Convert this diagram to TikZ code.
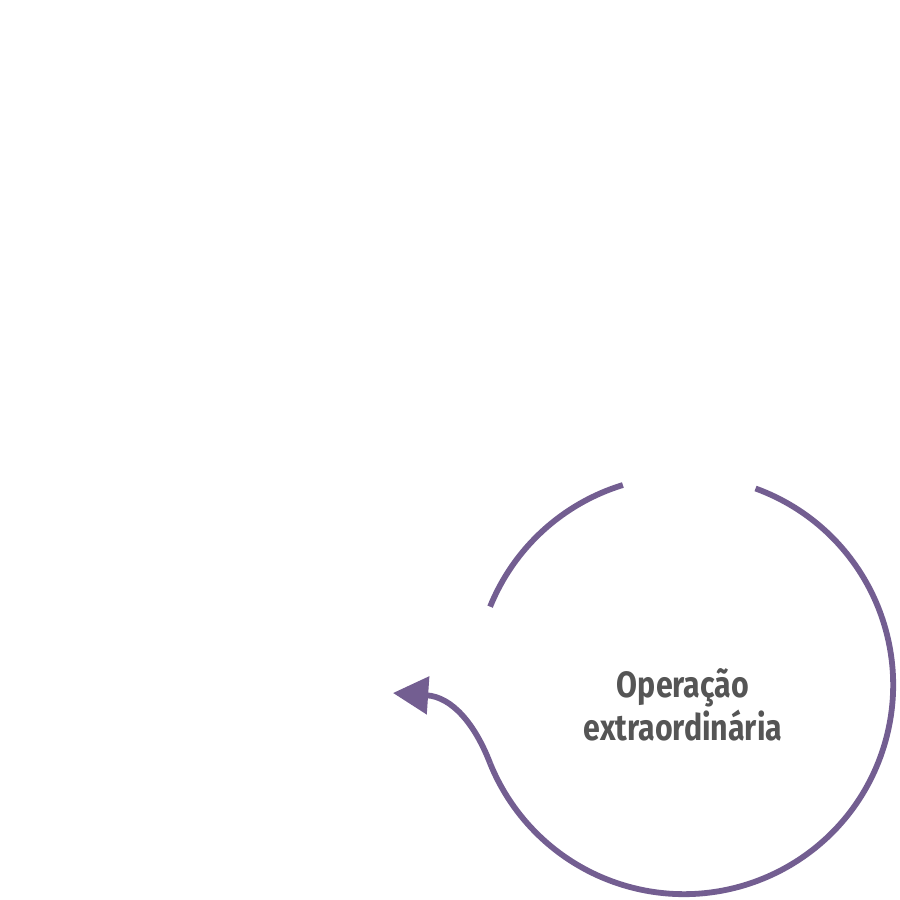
\documentclass[tikz,border=0pt]{standalone}
\usepackage{fontspec}
\usepackage{tikz}
\usetikzlibrary{arrows.meta}
\newfontfamily\labelfont[FakeStretch=0.83]{Fira Sans}
\definecolor{ringpurple}{HTML}{735E91}
\definecolor{labelgray}{HTML}{555555}

\tikzset{
    ringline/.style={draw=ringpurple, line width=1.65pt},
    ringlabel/.style={text=labelgray, font=\labelfont\bfseries\fontsize{10.4}{10.9}\selectfont, align=center}
}

\begin{document}
\begin{tikzpicture}[x=0.01cm, y=0.01cm]
        \useasboundingbox (0,0) rectangle (900,900);
            %Centre of the ring
        \coordinate (centre) at (684,215);
            %Short arc, top left
        \draw[ringline] (centre) ++(107:2.09cm) arc[start angle=107, end angle=158, radius=2.09cm];
            %Long arc, right and bottom
        \draw[ringline] (centre) ++(70:2.09cm) arc[start angle=70, end angle=-158, radius=2.09cm] coordinate (arcend);
            %Arrow out of the ring
        \coordinate (tip) at (393,207);
        \draw[ringline, -{Triangle[length=10pt, width=10.5pt]}] (arcend) .. controls (475,176) and (452,203) .. (tip);
            %Label
        \node[ringlabel] (label) at (683,195) {Operação\\extraordinária};
    \end{tikzpicture}
\end{document}
